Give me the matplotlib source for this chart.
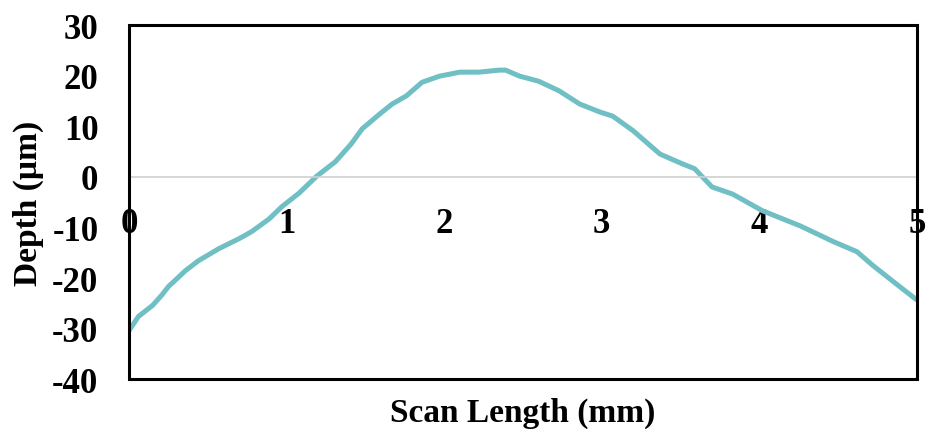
import matplotlib

matplotlib.use("Agg")
import matplotlib.pyplot as plt
from matplotlib.patches import Rectangle

# scan profile (mm, µm)
scan_mm = [0.00, 0.06, 0.15, 0.21, 0.25, 0.36, 0.44, 0.57, 0.70, 0.78, 0.89, 0.97,
           1.08, 1.19, 1.31, 1.41, 1.48, 1.59, 1.67, 1.76, 1.86, 1.97, 2.10, 2.22,
           2.35, 2.39, 2.48, 2.60, 2.73, 2.86, 2.99, 3.07, 3.20, 3.37, 3.51, 3.59,
           3.70, 3.83, 4.02, 4.26, 4.47, 4.62, 4.72, 4.85, 4.99]
depth_um = [-30.4, -27.6, -25.4, -23.3, -21.7, -18.5, -16.6, -14.2, -12.2, -10.8, -8.3, -5.9,
            -3.2, 0.1, 3.0, 6.5, 9.5, 12.4, 14.4, 16.0, 18.7, 19.9, 20.7, 20.7,
            21.1, 21.1, 19.9, 18.9, 17.0, 14.4, 12.8, 12.0, 9.1, 4.5, 2.6, 1.6,
            -2.0, -3.4, -6.7, -9.7, -12.8, -14.8, -17.5, -20.7, -24.1]
x_ticks = [0, 1, 2, 3, 4, 5]
y_ticks = [-40, -30, -20, -10, 0, 10, 20, 30]

plt.rcParams["font.family"] = ["Liberation Serif", "DejaVu Serif"]
plt.rcParams["font.weight"] = "bold"

fig = plt.figure(figsize=(9.28, 4.35), dpi=100)
ax = fig.add_axes([0.139, 0.126, 0.849, 0.814])

# horizontal axis crosses at zero, as in the spreadsheet original
ax.spines["bottom"].set_position(("data", 0))
ax.spines["bottom"].set_color("#d0d0d0")
ax.spines["bottom"].set_linewidth(1.2)
for side in ["top", "left", "right"]:
    ax.spines[side].set_visible(False)
ax.add_patch(Rectangle((0, 0), 1, 1, transform=ax.transAxes, fill=False,
                       edgecolor="black", lw=2.2, clip_on=False, zorder=5))

ax.plot(scan_mm, depth_um, color="#6fbfc4", lw=3.6, solid_joinstyle="round")

ax.set_xlim(0, 5)
ax.set_ylim(-40, 30)
ax.set_xticks(x_ticks)
ax.set_yticks(y_ticks)
ax.set_xticklabels([str(t) for t in x_ticks], fontsize=25, fontweight="bold")
ax.set_yticklabels([str(t) for t in y_ticks], fontsize=25, fontweight="bold")
ax.tick_params(axis="both", length=0)
ax.tick_params(axis="y", pad=22)
ax.tick_params(axis="x", pad=22)

ax.set_ylabel("Depth (µm)", fontsize=24, fontweight="bold", labelpad=6)
fig.text(0.563, 0.05, "Scan Length (mm)", fontsize=24, fontweight="bold",
         ha="center", va="center")

fig.savefig("out.png", dpi=100)
